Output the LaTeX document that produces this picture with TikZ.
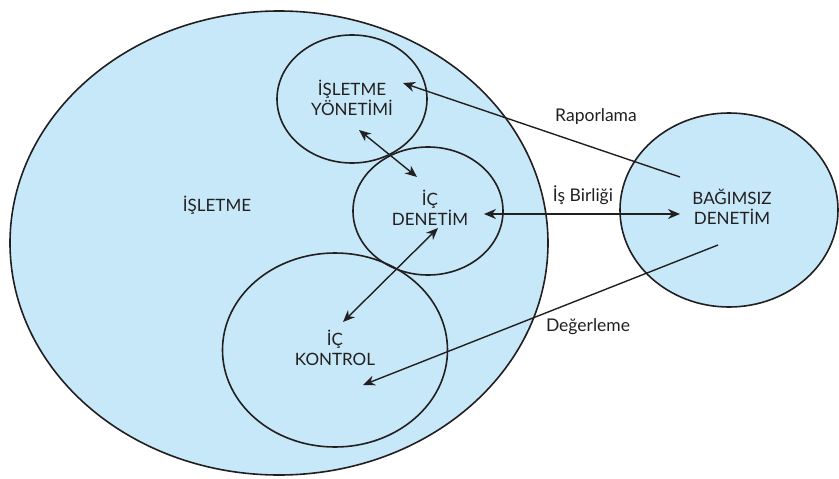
\documentclass[tikz,border=0pt]{standalone}
\usepackage{fontspec}
\setmainfont{Lato}
\usetikzlibrary{shapes.geometric,arrows.meta}
\definecolor{fillblue}{RGB}{198,232,248}
\definecolor{ink}{RGB}{35,31,32}
\tikzset{
  oval/.style={ellipse, draw=ink, line width=1.6pt, fill=fillblue, inner sep=0pt},
  ring/.style={ellipse, draw=ink, line width=1.6pt, inner sep=0pt},
  txt/.style={font=\fontsize{17}{20}\selectfont, text=ink, align=center, inner sep=0pt},
  lbl/.style={font=\fontsize{17.5}{20}\selectfont, text=ink, inner sep=0pt},
  conn/.style={draw=ink, line width=1.4pt},
  tip/.style={-{Stealth[length=12pt,width=10pt]}},
  dtip/.style={{Stealth[length=12pt,width=10pt]}-{Stealth[length=12pt,width=10pt]}}
}
\begin{document}
\begin{tikzpicture}[x=1pt,y=-1pt]
\useasboundingbox (0,0) rectangle (839,479);
% shapes
\node[oval, minimum width=538pt, minimum height=464pt] (isletme) at (279,243) {};
\node[oval, minimum width=218pt, minimum height=194pt] (bagimsiz) at (729,210) {};
\node[ring, minimum width=150pt, minimum height=128pt] (yonetim) at (352,99) {};
\node[ring, minimum width=150pt, minimum height=128pt] (icden) at (428,211) {};
\node[ring, minimum width=225pt, minimum height=194pt] (ickon) at (335,350) {};
% texts
\node[txt] (tIsletme) at (217,205) {İŞLETME};
\node[txt] (tYonetim) at (352,98) {İŞLETME\\YÖNETİMİ};
\node[txt] (tIcden) at (430,208) {İÇ\\DENETİM};
\node[txt] (tIckon) at (335,348) {İÇ\\KONTROL};
\node[txt] (tBag) at (732,207) {BAĞIMSIZ\\DENETİM};
\node[lbl] (lRap) at (596,117) {Raporlama};
\node[lbl] (lIs) at (583,195) {İş Birliği};
\node[lbl] (lDeg) at (588,327) {Değerleme};
% connector end points
\coordinate (rapS) at (680,177);
\coordinate (rapE) at (403,83);
\coordinate (yiA) at (359,130);
\coordinate (yiB) at (417,177);
\coordinate (ikA) at (438,228);
\coordinate (ikB) at (343,322);
\coordinate (isA) at (484,214);
\coordinate (isB) at (680,214);
\coordinate (degS) at (718,245);
\coordinate (degE) at (363,385);
% connectors
\draw[conn, tip] (rapS) -- (rapE);
\draw[conn, dtip] (yiA) -- (yiB);
\draw[conn, dtip] (ikA) -- (ikB);
\draw[conn, dtip, line width=2.4pt] (isA) -- (isB);
\draw[conn, tip] (degS) -- (degE);
\end{tikzpicture}
\end{document}
